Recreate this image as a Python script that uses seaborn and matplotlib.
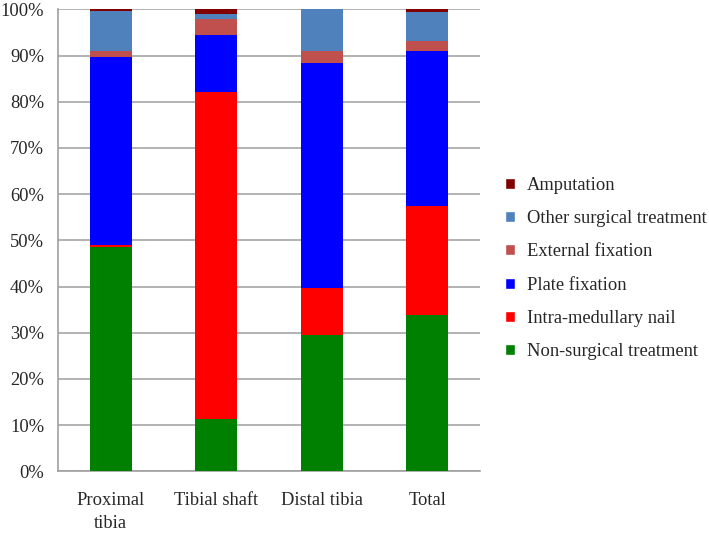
import numpy as np
import pandas as pd
import matplotlib
matplotlib.use('Agg')
import matplotlib.pyplot as plt
import seaborn as sns
from matplotlib.patches import Patch
from matplotlib.ticker import PercentFormatter

# ----- DATA (percent of each fracture site) ---------------|
categories = ['Proximal\ntibia', 'Tibial shaft', 'Distal tibia', 'Total']
non_surgical = [48.6, 11.3, 29.5, 33.8]
im_nail = [0.4, 70.7, 10.2, 23.7]
plate_fix = [40.6, 12.4, 48.6, 33.4]
external_fix = [1.4, 3.6, 2.6, 2.2]
other_surgical = [8.6, 1.0, 9.1, 6.3]
amputation = [0.4, 1.0, 0.0, 0.6]

series_names = ['Non-surgical treatment', 'Intra-medullary nail', 'Plate fixation',
                'External fixation', 'Other surgical treatment', 'Amputation']
series_vals = [non_surgical, im_nail, plate_fix, external_fix, other_surgical, amputation]
colors = ['#008000', '#FF0000', '#0000FF', '#C0504D', '#4F81BD', '#800000']

FONT_SIZE = 13.3

sns.set_style('white')
plt.rcParams['font.family'] = 'serif'
plt.rcParams['font.serif'] = ['Liberation Serif', 'DejaVu Serif']
plt.rcParams['font.size'] = FONT_SIZE

fig = plt.figure(figsize=(7.09, 5.35), dpi=100)
ax = fig.add_axes([0.0818, 0.119, 0.5952, 0.8636])

# stacked bars: draw cumulative totals from the top layer down
cum = np.cumsum(np.array(series_vals), axis=0)
for i in range(len(series_names) - 1, -1, -1):
    df = pd.DataFrame({'site': categories, 'pct': cum[i]})
    sns.barplot(data=df, x='site', y='pct', color=colors[i], saturation=1,
                width=0.4, linewidth=0, edgecolor='none', ax=ax, zorder=3)

ax.set_ylim(0, 100)
ax.set_xlim(-0.5, 3.5)
ax.set_yticks(np.arange(0, 101, 10))
ax.yaxis.set_major_formatter(PercentFormatter(decimals=0))
ax.set_xticks(np.arange(-0.5, 4, 1), minor=True)
ax.tick_params(axis='x', which='major', length=0, pad=15)
ax.tick_params(axis='x', which='minor', length=6, color='#a0a0a0', width=1)
ax.tick_params(axis='y', length=5, color='#a0a0a0', width=1, pad=5)
for lbl in ax.get_xticklabels():
    lbl.set_linespacing(1.45)
ax.set_xlabel('')
ax.set_ylabel('')
ax.yaxis.grid(True, color='#a6a6a6', linewidth=1.2, zorder=0)
ax.set_axisbelow(True)
for s in ['top', 'right']:
    ax.spines[s].set_visible(False)
for s in ['left', 'bottom']:
    ax.spines[s].set_color('#a0a0a0')
    ax.spines[s].set_linewidth(1.2)

handles = [Patch(facecolor=c) for c in colors][::-1]
fig.legend(handles, series_names[::-1], loc='center left', bbox_to_anchor=(0.712, 0.498),
           frameon=False, handlelength=0.55, handleheight=0.55, handletextpad=0.65,
           labelspacing=0.88, borderpad=0, borderaxespad=0, fontsize=FONT_SIZE)

fig.savefig('out.png', dpi=100)
